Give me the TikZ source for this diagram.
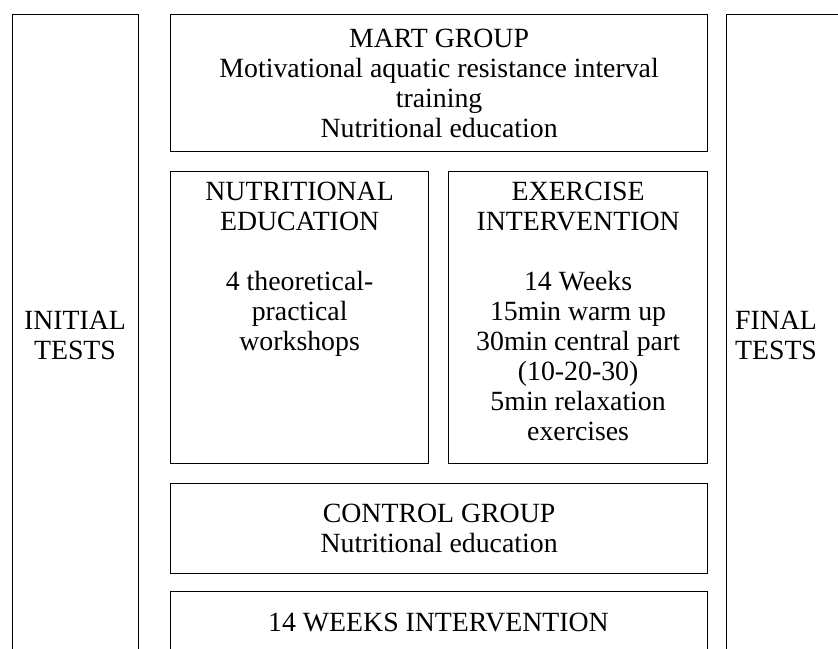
\documentclass[tikz,border=0pt]{standalone}
\usepackage{fontspec}
\setmainfont{Liberation Serif}
\usepackage{tikz}

\begin{document}
\begin{tikzpicture}[x=0.5pt,y=-0.5pt,
    box/.style={draw, line width=0.6pt, rectangle, inner sep=0pt, anchor=north west},
    txt/.style={align=center, inner sep=0pt, font=\fontsize{13.9}{15}\selectfont}]

    \useasboundingbox (0,0) rectangle (838,648);
    \clip (0,0) rectangle (838,648);

    \node[box, minimum width=63pt, minimum height=350pt] (init) at (12, 14) {};
    \node[box, minimum width=268.5pt, minimum height=68.5pt] (mart) at (170, 14) {};
    \node[box, minimum width=129pt, minimum height=146pt] (nutr) at (170, 171) {};
    \node[box, minimum width=129.5pt, minimum height=146pt] (exer) at (448, 171) {};
    \node[box, minimum width=268.5pt, minimum height=45pt] (ctrl) at (170, 483) {};
    \node[box, minimum width=268.5pt, minimum height=60pt] (week) at (170, 591) {};
    \node[box, minimum width=80pt, minimum height=350pt] (final) at (726, 14) {};

    \node[txt] (initT) at (75, 335) {INITIAL\\TESTS};
    \node[txt] (finalT) at (776, 335) {FINAL\\TESTS};
    \node[txt] (martT) at (mart.center) {MART GROUP\\Motivational aquatic resistance interval\\training\\Nutritional education};
    \node[txt, anchor=north] (nutrT) at ([yshift=-5.5pt]nutr.north) {NUTRITIONAL\\EDUCATION\\[15pt]4 theoretical-\\practical\\workshops};
    \node[txt, anchor=north] (exerT) at ([yshift=-5.5pt]exer.north) {EXERCISE\\INTERVENTION\\[15pt]14 Weeks\\15min warm up\\30min central part\\(10-20-30)\\5min relaxation\\exercises};
    \node[txt] (ctrlT) at (ctrl.center) {CONTROL GROUP\\Nutritional education};
    \node[txt] (weekT) at (438.5, 622) {14 WEEKS INTERVENTION};

\end{tikzpicture}
\end{document}
